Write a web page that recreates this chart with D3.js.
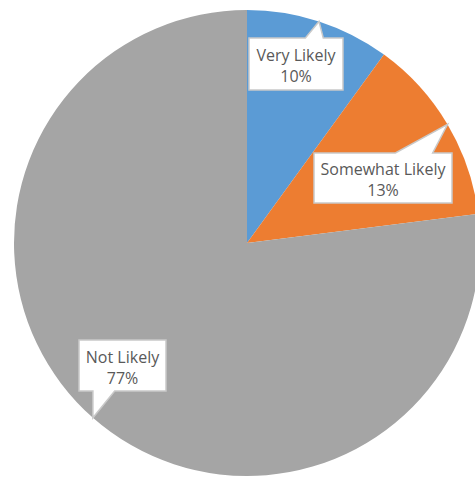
<!DOCTYPE html>
<html>
<head>
<meta charset="utf-8">
<script src="https://cdn.jsdelivr.net/npm/d3@7"></script>
<style>
  html, body { margin: 0; padding: 0; background: #ffffff; }
  svg { display: block; }
</style>
</head>
<body>
<svg id="chart" width="475" height="479"></svg>
<script>
// Survey answers and their shares (percent)
const categories = ["Very Likely", "Somewhat Likely", "Not Likely"];
const values = [10, 13, 77];
const colors = ["#5B9BD5", "#ED7D31", "#A5A5A5"];

// Callout boxes: centre, size, and where the pointer leaves the box
const callouts = [
  { cx: 296, cy: 64, w: 94, h: 52, side: "top", b0: 0.60, b1: 0.79 },
  { cx: 383, cy: 178, w: 138, h: 50, side: "top", b0: 0.59, b1: 0.86 },
  { cx: 122.5, cy: 365.5, w: 87, h: 51, side: "bottom", b0: 0.16, b1: 0.41 }
];

const width = 475, height = 479;
const cx = 247, cy = 243, radius = 233;

const svg = d3.select("#chart");
const g = svg.append("g").attr("transform", `translate(${cx},${cy})`);

const pie = d3.pie().sort(null).value(d => d.value);
const arcs = pie(categories.map((c, i) => ({ name: c, value: values[i], color: colors[i] })));
const arc = d3.arc().innerRadius(0).outerRadius(radius);

g.selectAll("path.slice")
  .data(arcs)
  .join("path")
  .attr("class", "slice")
  .attr("d", arc)
  .attr("fill", d => d.data.color);

// Callout labels with pointers to the outer edge of each slice
const total = d3.sum(values);
const fmt = v => Math.round(v / total * 100) + "%";

arcs.forEach((d, i) => {
  const c = callouts[i];
  const mid = (d.startAngle + d.endAngle) / 2;
  const tipX = cx + radius * Math.sin(mid);
  const tipY = cy - radius * Math.cos(mid);
  const x0 = c.cx - c.w / 2, x1 = c.cx + c.w / 2;
  const y0 = c.cy - c.h / 2, y1 = c.cy + c.h / 2;
  const bx0 = x0 + c.w * c.b0, bx1 = x0 + c.w * c.b1;
  let p;
  if (c.side === "top") {
    p = `M${x0},${y0} L${bx0},${y0} L${tipX},${tipY} L${bx1},${y0} L${x1},${y0} L${x1},${y1} L${x0},${y1} Z`;
  } else {
    p = `M${x0},${y0} L${x1},${y0} L${x1},${y1} L${bx1},${y1} L${tipX},${tipY} L${bx0},${y1} L${x0},${y1} Z`;
  }
  svg.append("path")
    .attr("d", p)
    .attr("fill", "#ffffff")
    .attr("stroke", "#c9c9c9")
    .attr("stroke-width", 1.5)
    .attr("stroke-linejoin", "miter");

  const t = svg.append("text")
    .attr("x", c.cx)
    .attr("text-anchor", "middle")
    .attr("font-family", "'Open Sans', sans-serif")
    .attr("font-size", 16)
    .attr("fill", "#595959");
  t.append("tspan").attr("x", c.cx).attr("y", c.cy - 3).text(d.data.name);
  t.append("tspan").attr("x", c.cx).attr("y", c.cy + 18).text(fmt(d.data.value));
});
</script>
</body>
</html>
